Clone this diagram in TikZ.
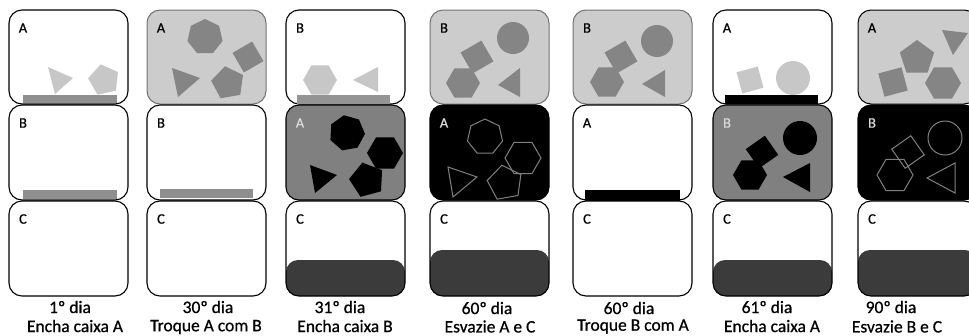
\documentclass[tikz,border=0pt]{standalone}
\usepackage{fontspec}
\setmainfont{Carlito}
\newfontfamily\capfont{Carlito}[FakeBold=0.7]
\usetikzlibrary{shapes.geometric}
\definecolor{lightbg}{gray}{0.80}
\definecolor{midshape}{gray}{0.52}
\definecolor{lightshape}{gray}{0.78}
\definecolor{barc}{gray}{0.56}
\definecolor{midbg}{gray}{0.50}
\definecolor{darkc}{gray}{0.23}
\definecolor{outl}{gray}{0.50}
\begin{document}
\begin{tikzpicture}[x=1pt,y=-1pt,
  box/.style={draw=black,line width=1.1pt,rounded corners=13pt},
  gbox/.style={draw=black!55,line width=1pt,rounded corners=13pt,fill=lightbg},
  darkfill/.style={fill=darkc,rounded corners=12pt},
  boxlet/.style={font=\capfont\fontsize{14.5}{14.5}\selectfont,inner sep=0pt},
  daytxt/.style={font=\capfont\fontsize{17.5}{19}\selectfont,inner sep=0pt},
  pg/.style={regular polygon,regular polygon sides=#1,inner sep=0pt},
  rnd/.style={circle,inner sep=0pt},
  olin/.style={draw=outl,line width=1pt},
]
\clip (0,0) rectangle (969,335);
\fill[white] (0,0) rectangle (969,335);

% ---------------- Column 1 ----------------
\draw[box] (9,10) rectangle (128,104);
\draw[box] (9,105) rectangle (128,200);
\draw[box] (9,201) rectangle (128,296);
\fill[lightshape] (48,67) -- (73,78) -- (55,94) -- cycle;
\node[pg=5,minimum size=32pt,fill=lightshape,rotate=12] (c1p) at (104,80) {};
\fill[barc] (23,95) rectangle (117,103);
\fill[barc] (23,190) rectangle (117,199);
\node[boxlet] (c1a) at (23,28) {A};
\node[boxlet] (c1b) at (23,123) {B};
\node[boxlet] (c1c) at (23,219) {C};
\node[daytxt] (l1a) at (70,307) {1º dia};
\node[daytxt] (l1b) at (75,326) {Encha caixa A};

% ---------------- Column 2 ----------------
\draw[gbox] (147,10) rectangle (266,104);
\node[pg=7,minimum size=36pt,fill=midshape] (c2h) at (205,37) {};
\node[pg=4,minimum size=32pt,fill=midshape,rotate=30] (c2s) at (248,57) {};
\fill[midshape] (172,68) -- (200,78) -- (178,97) -- cycle;
\node[pg=5,minimum size=34pt,fill=midshape,rotate=10] (c2p) at (228,83) {};
\draw[box] (147,105) rectangle (266,200);
\draw[box] (147,201) rectangle (266,296);
\fill[barc] (160,189) rectangle (253,198);
\node[boxlet] (c2a) at (161,28) {A};
\node[boxlet] (c2b) at (161,123) {B};
\node[boxlet] (c2c) at (161,219) {C};
\node[daytxt] (l2a) at (208,307) {30º dia};
\node[daytxt] (l2b) at (206,327) {Troque A com B};

% ---------------- Column 3 ----------------
\draw[box] (286,10) rectangle (405,104);
\node[pg=6,minimum size=34pt,fill=lightshape] (c3h) at (320,80) {};
\fill[lightshape] (378,67) -- (378,92) -- (353,80) -- cycle;
\fill[black!42] (297,95) rectangle (390,104);
\draw[box,fill=midbg] (286,105) rectangle (405,200);
\node[pg=7,minimum size=36pt,fill=black,rotate=10] (c3hp) at (347,133) {};
\node[pg=6,minimum size=36pt,fill=black] (c3hx) at (385,153) {};
\fill[black] (310,165) -- (337,175) -- (315,193) -- cycle;
\node[pg=5,minimum size=36pt,fill=black,rotate=15] (c3p) at (367,180) {};
\fill[darkfill] (286,260) rectangle (405,296);
\draw[box] (286,201) rectangle (405,296);
\node[boxlet] (c3b) at (300,28) {B};
\node[boxlet,text=white!85!black] (c3a) at (300,123) {A};
\node[boxlet] (c3c) at (300,219) {C};
\node[daytxt] (l3a) at (340,307) {31º dia};
\node[daytxt] (l3b) at (345,326) {Encha caixa B};

% ---------------- Column 4 ----------------
\draw[gbox] (430,10) rectangle (549,104);
\node[rnd,minimum size=32pt,fill=midshape] (c4c) at (513,38) {};
\node[pg=4,minimum size=34pt,fill=midshape,rotate=30] (c4s) at (477,57) {};
\node[pg=6,minimum size=34pt,fill=midshape] (c4h) at (463,83) {};
\fill[midshape] (520,68) -- (520,97) -- (498,85) -- cycle;
\draw[box,fill=black] (430,105) rectangle (549,200);
\node[pg=7,minimum size=36pt,olin] (c4hp) at (485,137) {};
\node[pg=6,minimum size=36pt,olin] (c4hx) at (523,158) {};
\draw[olin] (448,167) -- (477,177) -- (453,197) -- cycle;
\node[pg=5,minimum size=36pt,olin,rotate=10] (c4p) at (505,183) {};
\fill[darkfill] (430,250) rectangle (549,296);
\draw[box] (430,201) rectangle (549,296);
\node[boxlet] (c4b) at (444,28) {B};
\node[boxlet,text=white!85!black] (c4a) at (444,123) {A};
\node[boxlet] (c4cc) at (444,219) {C};
\node[daytxt] (l4a) at (487,308) {60º dia};
\node[daytxt] (l4b) at (490,326.5) {Esvazie A e C};

% ---------------- Column 5 ----------------
\draw[gbox] (573,10) rectangle (692,104);
\node[rnd,minimum size=32pt,fill=midshape] (c5c) at (657,41) {};
\node[pg=4,minimum size=34pt,fill=midshape,rotate=30] (c5s) at (621,57) {};
\node[pg=6,minimum size=34pt,fill=midshape] (c5h) at (607,82) {};
\fill[midshape] (665,70) -- (665,97) -- (642,84) -- cycle;
\draw[box] (573,105) rectangle (692,200);
\fill[black] (585,190) rectangle (680,201);
\draw[box] (573,201) rectangle (692,296);
\node[boxlet] (c5b) at (587,28) {B};
\node[boxlet] (c5a) at (587,123) {A};
\node[boxlet] (c5cc) at (587,219) {C};
\node[daytxt] (l5a) at (629,308) {60º dia};
\node[daytxt] (l5b) at (633,326.5) {Troque B com A};

% ---------------- Column 6 ----------------
\draw[box] (713,10) rectangle (832,104);
\node[pg=4,minimum size=31pt,fill=lightshape,rotate=15] (c6s) at (750,80) {};
\node[rnd,minimum size=34pt,fill=lightshape] (c6c) at (793,78) {};
\fill[black] (725,95) rectangle (818,104);
\draw[box,fill=midbg] (713,105) rectangle (832,200);
\node[rnd,minimum size=34pt,fill=black] (c6cc) at (800,138) {};
\node[pg=4,minimum size=33pt,fill=black,rotate=35] (c6ss) at (762,152) {};
\node[pg=6,minimum size=34pt,fill=black] (c6h) at (750,175) {};
\fill[black] (810,163) -- (810,192) -- (783,177) -- cycle;
\fill[darkfill] (713,260) rectangle (832,296);
\draw[box] (713,201) rectangle (832,296);
\node[boxlet] (c6a) at (727,28) {A};
\node[boxlet,text=white!85!black] (c6b) at (727,123) {B};
\node[boxlet] (c6ccc) at (727,219) {C};
\node[daytxt] (l6a) at (767,307) {61º dia};
\node[daytxt] (l6b) at (772,326) {Encha caixa A};

% ---------------- Column 7 ----------------
\draw[gbox,draw=black] (858,10) rectangle (977,104);
\fill[midshape] (942,30) -- (968,33) -- (953,55) -- cycle;
\node[pg=5,minimum size=36pt,fill=midshape] (c7p) at (917,58) {};
\node[pg=4,minimum size=34pt,fill=midshape,rotate=15] (c7s) at (893,82) {};
\node[pg=6,minimum size=36pt,fill=midshape] (c7h) at (943,83) {};
\draw[box,fill=black] (858,105) rectangle (977,200);
\node[rnd,minimum size=34pt,olin] (c7c) at (945,138) {};
\node[pg=4,minimum size=33pt,olin,rotate=35] (c7ss) at (908,152) {};
\node[pg=6,minimum size=36pt,olin] (c7hh) at (895,175) {};
\draw[olin] (955,163) -- (955,193) -- (927,178) -- cycle;
\fill[darkfill] (858,250) rectangle (977,296);
\draw[box] (858,201) rectangle (977,296);
\node[boxlet] (c7a) at (872,28) {A};
\node[boxlet,text=white!85!black] (c7b) at (872,123) {B};
\node[boxlet] (c7cc) at (872,219) {C};
\node[daytxt] (l7a) at (891,307) {90º dia};
\node[daytxt] (l7b) at (897,326.5) {Esvazie B e C};
\end{tikzpicture}
\end{document}
